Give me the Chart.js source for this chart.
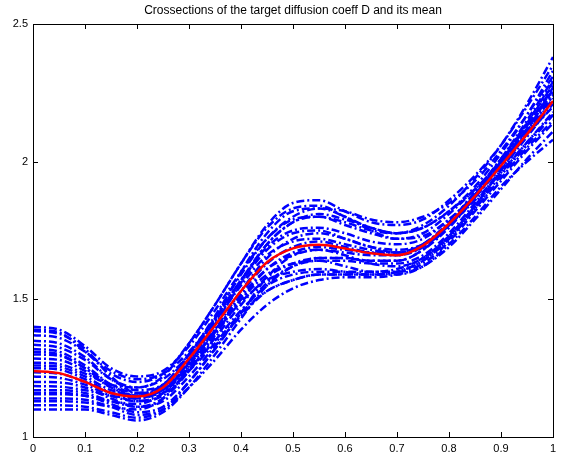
<!DOCTYPE html>
<html>
<head>
<meta charset="utf-8">
<script src="https://cdn.jsdelivr.net/npm/chart.js@4/dist/chart.umd.min.js"></script>
<style>
  html, body { margin: 0; padding: 0; background: #fff; }
  #wrap { width: 564px; height: 457px; }
</style>
</head>
<body>
<div id="wrap"><canvas id="crossChart"></canvas></div>
<script>
// grid positions along the crossection
const xGrid = [0, 0.05, 0.1, 0.15, 0.2, 0.25, 0.3, 0.35, 0.4, 0.45, 0.5,
               0.55, 0.6, 0.65, 0.7, 0.75, 0.8, 0.85, 0.9, 0.95, 1];

// mean of the diffusion coefficient samples
const meanD = [1.240, 1.232, 1.200, 1.160, 1.147, 1.180, 1.285, 1.405, 1.530, 1.635, 1.685,
               1.698, 1.685, 1.667, 1.660, 1.695, 1.775, 1.875, 1.985, 2.100, 2.220];

// individual crossections of D
const sampleD = [
  [1.40, 1.39, 1.33, 1.25, 1.22, 1.24, 1.33, 1.46, 1.60, 1.72, 1.79, 1.80, 1.77, 1.74, 1.72, 1.74, 1.81, 1.90, 2.00, 2.12, 2.25],
  [1.385, 1.375, 1.32, 1.22, 1.16, 1.17, 1.25, 1.35, 1.46, 1.55, 1.59, 1.60, 1.60, 1.60, 1.61, 1.65, 1.73, 1.84, 1.97, 2.11, 2.27],
  [1.37, 1.36, 1.31, 1.24, 1.21, 1.23, 1.31, 1.43, 1.57, 1.70, 1.78, 1.81, 1.79, 1.76, 1.74, 1.76, 1.82, 1.91, 2.03, 2.17, 2.33],
  [1.35, 1.34, 1.29, 1.21, 1.17, 1.19, 1.28, 1.39, 1.50, 1.59, 1.63, 1.64, 1.62, 1.60, 1.60, 1.63, 1.71, 1.82, 1.93, 2.04, 2.14],
  [1.335, 1.325, 1.28, 1.21, 1.18, 1.21, 1.30, 1.44, 1.59, 1.72, 1.80, 1.83, 1.82, 1.79, 1.78, 1.80, 1.85, 1.93, 2.04, 2.17, 2.31],
  [1.32, 1.31, 1.26, 1.19, 1.15, 1.16, 1.24, 1.34, 1.45, 1.53, 1.57, 1.59, 1.59, 1.59, 1.60, 1.64, 1.72, 1.83, 1.95, 2.06, 2.17],
  [1.30, 1.295, 1.25, 1.19, 1.16, 1.19, 1.30, 1.43, 1.57, 1.69, 1.75, 1.76, 1.74, 1.71, 1.70, 1.72, 1.79, 1.88, 1.99, 2.11, 2.24],
  [1.285, 1.28, 1.24, 1.18, 1.15, 1.17, 1.26, 1.38, 1.51, 1.61, 1.66, 1.68, 1.67, 1.66, 1.66, 1.70, 1.78, 1.89, 2.01, 2.14, 2.28],
  [1.27, 1.265, 1.23, 1.19, 1.18, 1.22, 1.34, 1.48, 1.63, 1.76, 1.83, 1.84, 1.80, 1.76, 1.74, 1.76, 1.82, 1.90, 2.00, 2.10, 2.20],
  [1.25, 1.245, 1.21, 1.16, 1.13, 1.15, 1.24, 1.36, 1.48, 1.58, 1.63, 1.65, 1.65, 1.64, 1.64, 1.68, 1.76, 1.87, 1.99, 2.12, 2.26],
  [1.235, 1.23, 1.20, 1.16, 1.15, 1.19, 1.30, 1.42, 1.55, 1.66, 1.71, 1.72, 1.70, 1.68, 1.67, 1.70, 1.77, 1.86, 1.96, 2.07, 2.18],
  [1.22, 1.215, 1.19, 1.15, 1.13, 1.16, 1.26, 1.39, 1.53, 1.65, 1.72, 1.74, 1.72, 1.69, 1.67, 1.69, 1.77, 1.88, 2.01, 2.15, 2.30],
  [1.20, 1.198, 1.18, 1.14, 1.11, 1.13, 1.22, 1.33, 1.44, 1.53, 1.57, 1.59, 1.59, 1.59, 1.60, 1.64, 1.72, 1.83, 1.94, 2.05, 2.15],
  [1.185, 1.183, 1.17, 1.15, 1.14, 1.18, 1.29, 1.42, 1.56, 1.68, 1.74, 1.75, 1.72, 1.69, 1.68, 1.70, 1.77, 1.87, 1.98, 2.10, 2.23],
  [1.17, 1.17, 1.16, 1.13, 1.11, 1.14, 1.24, 1.37, 1.50, 1.61, 1.67, 1.69, 1.68, 1.67, 1.67, 1.70, 1.78, 1.89, 2.01, 2.13, 2.26],
  [1.155, 1.155, 1.15, 1.13, 1.12, 1.16, 1.28, 1.43, 1.60, 1.74, 1.82, 1.83, 1.80, 1.75, 1.72, 1.73, 1.79, 1.88, 1.99, 2.11, 2.24],
  [1.14, 1.14, 1.135, 1.11, 1.08, 1.10, 1.18, 1.28, 1.39, 1.48, 1.54, 1.57, 1.58, 1.58, 1.59, 1.62, 1.69, 1.79, 1.90, 2.01, 2.11],
  [1.13, 1.13, 1.125, 1.11, 1.10, 1.14, 1.25, 1.38, 1.52, 1.63, 1.69, 1.71, 1.69, 1.67, 1.66, 1.69, 1.77, 1.88, 2.00, 2.14, 2.29],
  [1.115, 1.115, 1.11, 1.09, 1.07, 1.10, 1.20, 1.32, 1.45, 1.56, 1.62, 1.64, 1.64, 1.63, 1.63, 1.66, 1.74, 1.85, 1.97, 2.09, 2.21],
  [1.10, 1.10, 1.10, 1.08, 1.06, 1.09, 1.18, 1.30, 1.43, 1.55, 1.62, 1.65, 1.65, 1.64, 1.64, 1.68, 1.77, 1.88, 2.00, 2.13, 2.27],
  [1.31, 1.30, 1.25, 1.18, 1.14, 1.17, 1.27, 1.41, 1.56, 1.70, 1.78, 1.80, 1.78, 1.75, 1.74, 1.77, 1.84, 1.94, 2.06, 2.21, 2.38],
  [1.26, 1.255, 1.22, 1.17, 1.15, 1.18, 1.27, 1.38, 1.49, 1.57, 1.60, 1.61, 1.60, 1.59, 1.59, 1.62, 1.70, 1.80, 1.91, 2.00, 2.08],
  [1.16, 1.16, 1.15, 1.12, 1.09, 1.11, 1.20, 1.32, 1.45, 1.58, 1.66, 1.68, 1.66, 1.63, 1.62, 1.65, 1.73, 1.84, 1.96, 2.07, 2.17],
  [1.39, 1.38, 1.31, 1.23, 1.20, 1.23, 1.34, 1.48, 1.63, 1.77, 1.85, 1.86, 1.82, 1.78, 1.77, 1.79, 1.86, 1.95, 2.06, 2.20, 2.35]
];

const xTicks = [0, 0.1, 0.2, 0.3, 0.4, 0.5, 0.6, 0.7, 0.8, 0.9, 1];
const yTicks = [1, 1.5, 2, 2.5];
const titleText = 'Crossections of the target diffusion coeff D and its mean';

const toPoints = ys => ys.map((y, i) => ({ x: xGrid[i], y: y }));
const plainLabel = v => String(Math.round(v * 10) / 10);

const datasets = [{
    label: 'mean',
    data: toPoints(meanD),
    borderColor: '#ff0000',
    borderWidth: 2.5,
    pointRadius: 0,
    cubicInterpolationMode: 'monotone'
}];
sampleD.forEach((ys, k) => {
    datasets.push({
        label: 'D' + (k + 1),
        data: toPoints(ys),
        borderColor: '#0000ff',
        borderWidth: 2.5,
        borderDash: [8, 3, 2, 3],
        pointRadius: 0,
        cubicInterpolationMode: 'monotone'
    });
});

// box around the axes, inward tick marks and the title
const matlabFrame = {
    id: 'matlabFrame',
    afterDraw(chart) {
        const { ctx, chartArea: a, scales } = chart;
        ctx.save();
        ctx.strokeStyle = '#000';
        ctx.lineWidth = 1;
        ctx.strokeRect(a.left + 0.5, a.top + 0.5, a.right - a.left, a.bottom - a.top);
        ctx.beginPath();
        const len = 5;
        xTicks.forEach(v => {
            const px = Math.round(scales.x.getPixelForValue(v)) + 0.5;
            ctx.moveTo(px, a.bottom); ctx.lineTo(px, a.bottom - len);
            ctx.moveTo(px, a.top); ctx.lineTo(px, a.top + len);
        });
        yTicks.forEach(v => {
            const py = Math.round(scales.y.getPixelForValue(v)) + 0.5;
            ctx.moveTo(a.left, py); ctx.lineTo(a.left + len, py);
            ctx.moveTo(a.right, py); ctx.lineTo(a.right - len, py);
        });
        ctx.stroke();
        ctx.fillStyle = '#000';
        ctx.font = '12px "Liberation Sans", Arial, sans-serif';
        ctx.textAlign = 'center';
        ctx.textBaseline = 'middle';
        ctx.fillText(titleText, (a.left + a.right) / 2, 11);
        ctx.restore();
    }
};

new Chart(document.getElementById('crossChart').getContext('2d'), {
    type: 'line',
    data: { datasets: datasets },
    options: {
        responsive: true,
        maintainAspectRatio: false,
        animation: false,
        layout: { padding: { top: 24, right: 11, left: 0, bottom: 0 } },
        plugins: {
            legend: { display: false },
            tooltip: { enabled: false }
        },
        scales: {
            x: {
                type: 'linear',
                min: 0, max: 1,
                afterFit: s => { s.height = 20; },
                afterBuildTicks: s => { s.ticks = xTicks.map(v => ({ value: v })); },
                grid: { display: false, drawTicks: false },
                border: { display: false },
                ticks: { color: '#000', padding: 5, maxRotation: 0, callback: plainLabel,
                         font: { family: '"Liberation Sans", Arial, sans-serif', size: 11 } }
            },
            y: {
                min: 1, max: 2.5,
                afterFit: s => { s.width = 33; },
                afterBuildTicks: s => { s.ticks = yTicks.map(v => ({ value: v })); },
                grid: { display: false, drawTicks: false },
                border: { display: false },
                ticks: { color: '#000', padding: 5, callback: plainLabel,
                         font: { family: '"Liberation Sans", Arial, sans-serif', size: 11 } }
            }
        }
    },
    plugins: [matlabFrame]
});
</script>
</body>
</html>
